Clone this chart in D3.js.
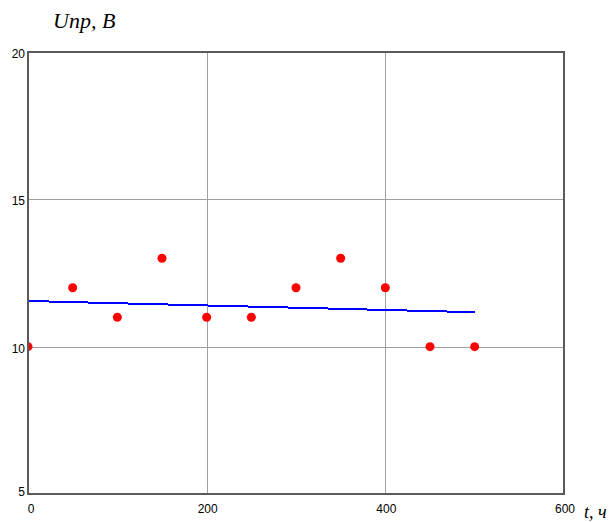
<!DOCTYPE html>
<html>
<head>
<meta charset="utf-8">
<script src="https://cdn.jsdelivr.net/npm/d3@7"></script>
<style>
  body { margin: 0; background: #fff; }
  svg { display: block; }
</style>
</head>
<body>
<svg></svg>
<script>
// measured points
const hours = [0, 50, 100, 150, 200, 250, 300, 350, 400, 450, 500];
const voltage = [10, 12, 11, 13, 11, 11, 12, 13, 12, 10, 10];

// trend line, ends
const trendX = [0, 500];
const trendY = [11.55, 11.17];

const xTicks = [0, 200, 400, 600];
const yTicks = [5, 10, 15, 20];

const width = 614;
const height = 522;
const plotLeft = 28, plotRight = 564, plotTop = 52, plotBottom = 494;

const svg = d3.select('svg')
    .attr('width', width)
    .attr('height', height);

const xScale = d3.scaleLinear().domain([0, 600]).range([plotLeft, plotRight]);
const yScale = d3.scaleLinear().domain([5, 20]).range([plotBottom, plotTop]);

svg.append('clipPath')
    .attr('id', 'plot')
    .append('rect')
    .attr('x', plotLeft)
    .attr('y', plotTop)
    .attr('width', plotRight - plotLeft)
    .attr('height', plotBottom - plotTop);

// grid
svg.append('g')
    .attr('transform', `translate(0,${plotBottom})`)
    .call(d3.axisBottom(xScale).tickValues(xTicks).tickSize(-(plotBottom - plotTop)).tickFormat(''))
    .call(g => g.select('.domain').remove())
    .selectAll('line')
    .attr('stroke', '#a0a0a0')
    .attr('shape-rendering', 'crispEdges');

svg.append('g')
    .attr('transform', `translate(${plotLeft},0)`)
    .call(d3.axisLeft(yScale).tickValues(yTicks).tickSize(-(plotRight - plotLeft)).tickFormat(''))
    .call(g => g.select('.domain').remove())
    .selectAll('line')
    .attr('stroke', '#a0a0a0')
    .attr('shape-rendering', 'crispEdges');

// trend line
const line = d3.line()
    .x(d => xScale(d[0]))
    .y(d => yScale(d[1]));

svg.append('path')
    .datum(trendX.map((x, i) => [x, trendY[i]]))
    .attr('d', line)
    .attr('fill', 'none')
    .attr('stroke', '#0000ff')
    .attr('stroke-width', 2)
    .attr('shape-rendering', 'crispEdges');

// points
svg.append('g')
    .attr('clip-path', 'url(#plot)')
    .selectAll('circle')
    .data(hours)
    .enter()
    .append('circle')
    .attr('cx', d => xScale(d))
    .attr('cy', (d, i) => yScale(voltage[i]))
    .attr('r', 4.5)
    .attr('fill', '#ff0000');

// frame
svg.append('rect')
    .attr('x', plotLeft)
    .attr('y', plotTop)
    .attr('width', plotRight - plotLeft)
    .attr('height', plotBottom - plotTop)
    .attr('fill', 'none')
    .attr('stroke', '#5a5a5a')
    .attr('stroke-width', 2);

// tick labels
svg.append('g')
    .selectAll('text')
    .data(xTicks)
    .enter()
    .append('text')
    .attr('x', d => xScale(d) + (d === 0 ? 3 : 1))
    .attr('y', plotBottom + 19)
    .attr('text-anchor', 'middle')
    .attr('font-family', 'Liberation Sans, Arial, sans-serif')
    .attr('font-size', 12)
    .attr('fill', '#000')
    .text(d => d);

svg.append('g')
    .selectAll('text')
    .data(yTicks)
    .enter()
    .append('text')
    .attr('x', plotLeft - 3)
    .attr('y', d => yScale(d) + (d === 5 ? 2 : 6))
    .attr('text-anchor', 'end')
    .attr('font-family', 'Liberation Sans, Arial, sans-serif')
    .attr('font-size', 12)
    .attr('fill', '#000')
    .text(d => d);

// axis titles
svg.append('text')
    .attr('x', 53)
    .attr('y', 28)
    .attr('font-family', 'Liberation Serif, Times New Roman, serif')
    .attr('font-style', 'italic')
    .attr('font-size', 22)
    .text('Unp, B');

svg.append('text')
    .attr('x', 584)
    .attr('y', 518)
    .attr('font-family', 'Liberation Serif, Times New Roman, serif')
    .attr('font-style', 'italic')
    .attr('font-size', 18)
    .text('t, ч');
</script>
</body>
</html>
